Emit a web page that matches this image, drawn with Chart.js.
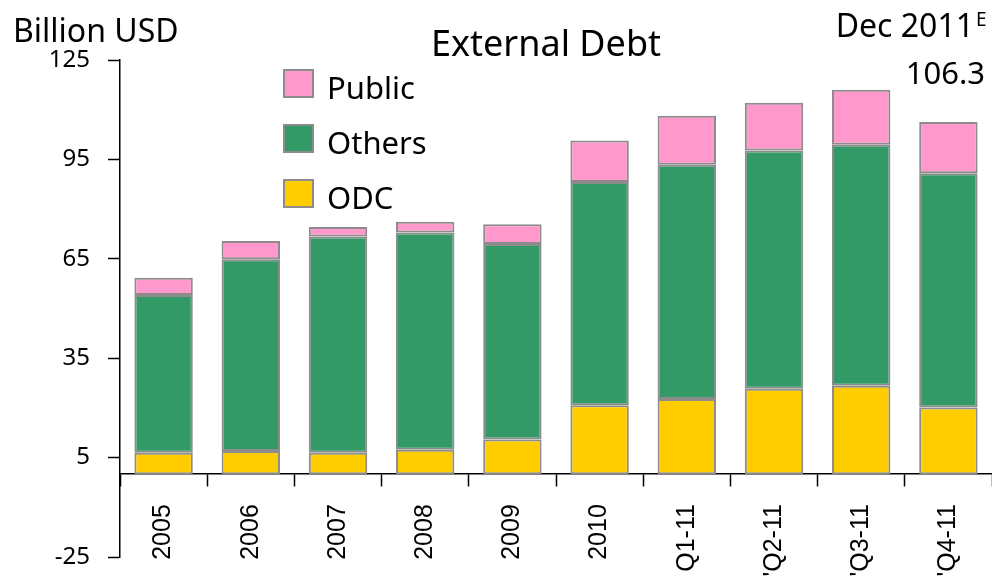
<!DOCTYPE html>
<html lang="en">
<head>
    <meta charset="UTF-8">
    <title>External Debt</title>
    <style>
        html, body {
            margin: 0;
            padding: 0;
            background: #fff;
            overflow: hidden;
        }
        .chart-wrap {
            position: relative;
            width: 992px;
            height: 577px;
        }
    </style>
</head>
<body>
    <div class="chart-wrap">
        <canvas id="debtChart" width="992" height="577"></canvas>
    </div>
    <script src="https://cdn.jsdelivr.net/npm/chart.js"></script>
    <script>
    // Values (billion USD)
    const categories = ['2005', '2006', '2007', '2008', '2009', '2010', 'Q1-11', "'Q2-11", "'Q3-11", "'Q4-11"];
    const odc        = [6.5, 7.0, 6.5, 7.4, 10.5, 20.8, 22.7, 25.8, 26.7, 20.1];
    const others     = [47.6, 57.9, 65.2, 65.5, 59.0, 67.4, 70.7, 71.9, 72.7, 70.7];
    const publicDebt = [5.2, 5.5, 2.9, 3.3, 5.9, 12.5, 14.8, 14.4, 16.6, 15.5];
    const yTicks     = [-25, 5, 35, 65, 95, 125];

    const seriesNames  = ['ODC', 'Others', 'Public'];
    const seriesColors = ['#ffcc00', '#339966', '#ff99cc'];
    const edgeColor = '#8c8c8c';
    const txtFont = '"Noto Sans", sans-serif';

    // Title, unit label, annotation and the legend, drawn on top of the chart
    const overlay = {
        id: 'overlay',
        afterDraw(chart) {
            const ctx = chart.ctx;
            ctx.save();
            ctx.fillStyle = '#000';
            ctx.textBaseline = 'alphabetic';

            ctx.font = '32px ' + txtFont;
            ctx.textAlign = 'left';
            ctx.fillText('Billion USD', 13, 42);

            ctx.font = '36px ' + txtFont;
            ctx.textAlign = 'center';
            ctx.fillText('External Debt', 546, 56);

            ctx.font = '32px ' + txtFont;
            ctx.textAlign = 'right';
            ctx.fillText('Dec 2011', 974, 37);
            ctx.font = '31px ' + txtFont;
            ctx.fillText('106.3', 985, 84);
            ctx.font = '19px ' + txtFont;
            ctx.textAlign = 'left';
            ctx.fillText('E', 976, 26);

            // legend, top entry is the top of the stack
            const boxTops = [180, 125, 70];
            ctx.font = '31px ' + txtFont;
            ctx.lineWidth = 2;
            ctx.strokeStyle = edgeColor;
            chart.data.datasets.forEach((ds, i) => {
                const top = boxTops[i];
                ctx.fillStyle = ds.backgroundColor;
                ctx.fillRect(284, top, 29, 27);
                ctx.strokeRect(284, top, 29, 27);
                ctx.fillStyle = '#000';
                ctx.fillText(ds.label, 327, top + 29);
            });
            ctx.restore();
        }
    };

    // keep the tick labels from pushing the plot area inwards
    function noScalePadding(scale) {
        scale.paddingTop = 0;
        scale.paddingBottom = 0;
        scale.paddingRight = 0;
    }

    const ctx = document.getElementById('debtChart').getContext('2d');
    const debtChart = new Chart(ctx, {
        type: 'bar',
        data: {
            labels: categories,
            datasets: [odc, others, publicDebt].map((vals, i) => ({
                label: seriesNames[i],
                data: vals,
                backgroundColor: seriesColors[i],
                borderColor: edgeColor,
                borderWidth: 2,
                borderSkipped: false,
                barPercentage: 0.67,
                categoryPercentage: 1.0
            }))
        },
        options: {
            responsive: false,
            animation: false,
            layout: {
                padding: { top: 60, bottom: 20, left: 0, right: 0 }
            },
            plugins: {
                legend: { display: false },
                title: { display: false },
                tooltip: { enabled: false }
            },
            scales: {
                x: {
                    stacked: true,
                    position: { y: 0 },
                    afterFit: noScalePadding,
                    grid: {
                        offset: true,
                        drawOnChartArea: false,
                        drawTicks: true,
                        tickLength: 12,
                        tickWidth: 1.5,
                        tickColor: '#000'
                    },
                    border: { display: true, color: '#000', width: 1.5 },
                    ticks: {
                        autoSkip: false,
                        minRotation: 90,
                        maxRotation: 90,
                        padding: 18,
                        color: '#000',
                        font: { family: '"Liberation Sans", Arial, sans-serif', size: 25 }
                    }
                },
                y: {
                    stacked: true,
                    min: -25,
                    max: 125,
                    afterBuildTicks(scale) {
                        scale.ticks = yTicks.map(v => ({ value: v }));
                    },
                    afterFit(scale) {
                        scale.width = 120;
                        noScalePadding(scale);
                    },
                    grid: {
                        drawOnChartArea: false,
                        drawTicks: true,
                        tickLength: 12,
                        tickWidth: 1.5,
                        tickColor: '#000'
                    },
                    border: { display: true, color: '#000', width: 1.5 },
                    ticks: {
                        padding: 18,
                        color: '#000',
                        font: { family: txtFont, size: 24 }
                    }
                }
            }
        },
        plugins: [overlay]
    });
    </script>
</body>
</html>
